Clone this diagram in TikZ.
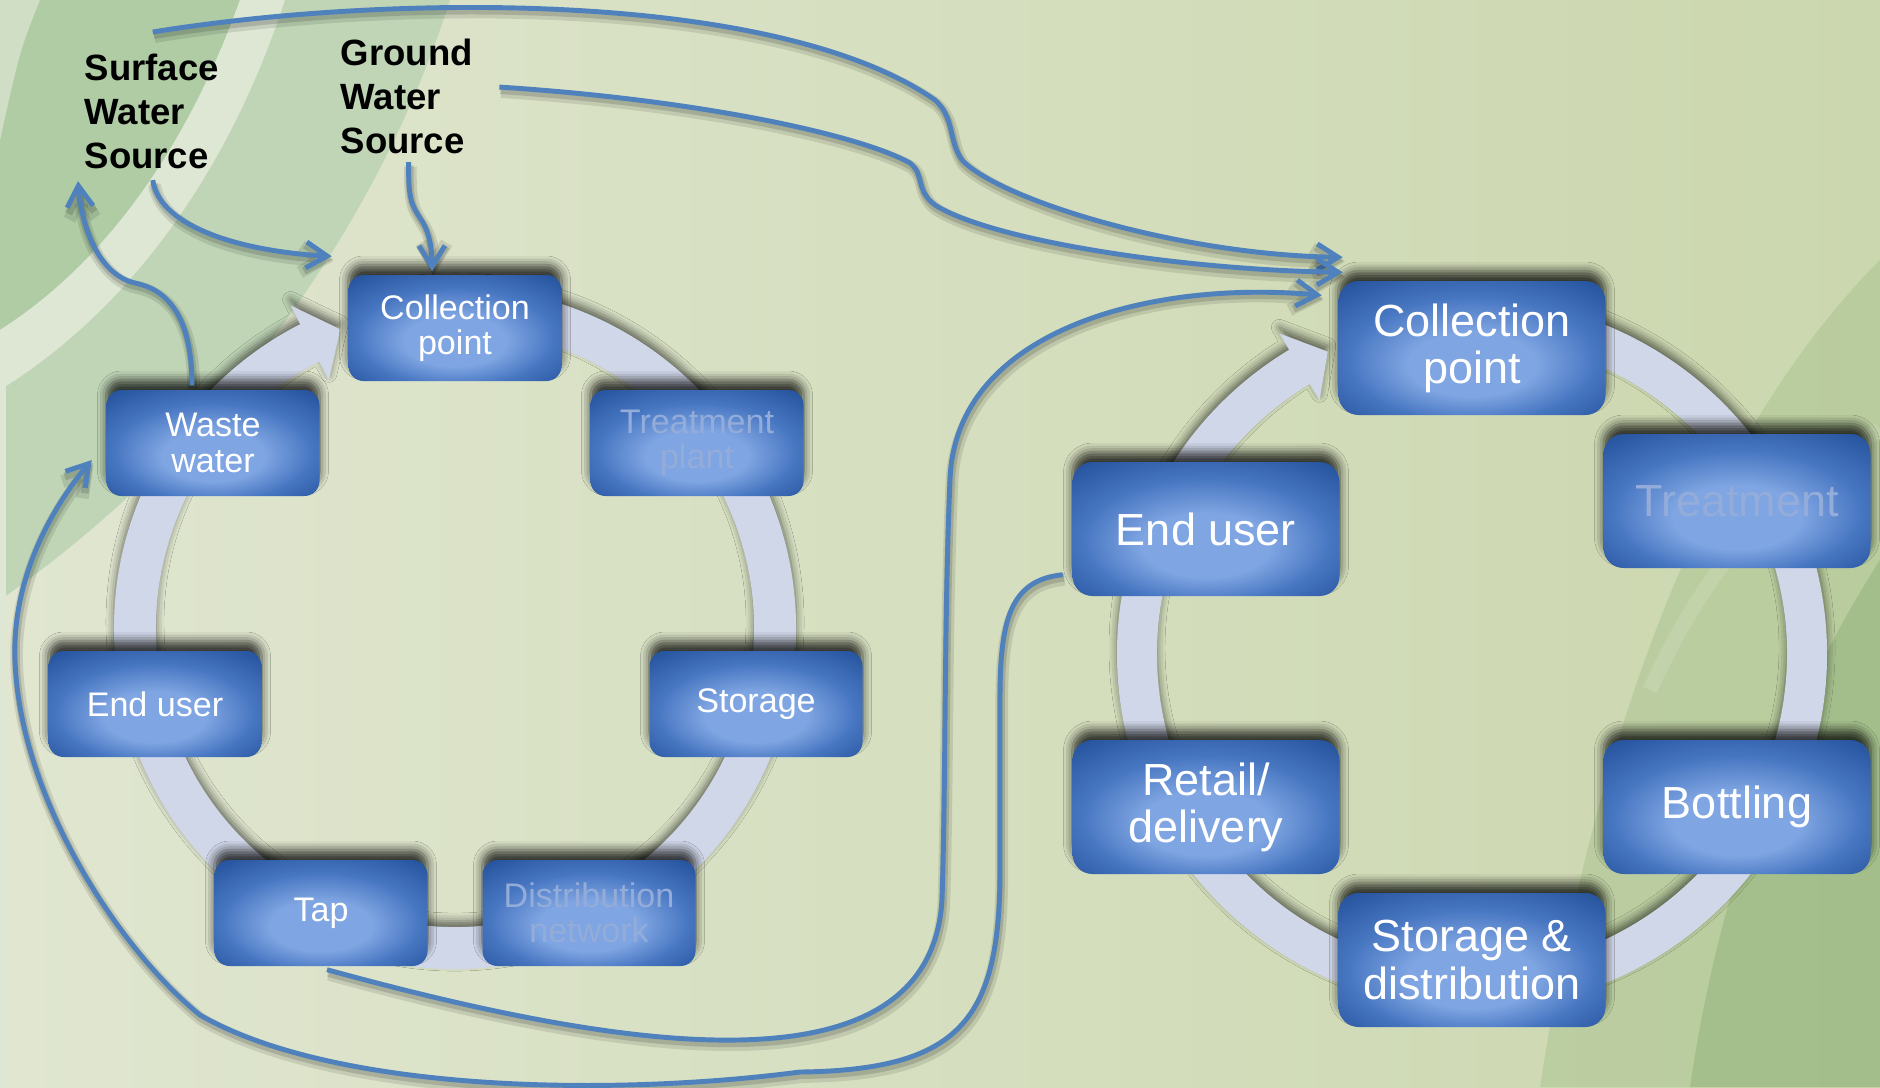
\documentclass[tikz,border=0pt]{standalone}
\usepackage{fontspec}
\setmainfont{Liberation Sans}
\usetikzlibrary{arrows.meta, calc, shadows.blur}

\definecolor{stagedark}{HTML}{2855A0}
\definecolor{stagemid}{HTML}{4877C2}
\definecolor{stagelight}{HTML}{7FA5E2}
\definecolor{ringgrey}{HTML}{D0D7E8}
\definecolor{flowblue}{HTML}{4F81BD}
\definecolor{fadetext}{HTML}{93ACD9}
\definecolor{bgleft}{HTML}{E0E6D0}
\definecolor{bgright}{HTML}{CBD7AE}
\definecolor{leafdark}{HTML}{AFCCA5}
\definecolor{leafmid}{HTML}{BFD5B6}
\definecolor{leafpale}{HTML}{DDE7D4}
\definecolor{leafright}{HTML}{A9C38F}
\definecolor{leafdeep}{HTML}{8FB279}

\pgfdeclareradialshading{stageshade}{\pgfpoint{0bp}{-8bp}}{%
    color(0bp)=(stagelight); color(12bp)=(stagelight);
    color(23bp)=(stagemid); color(35bp)=(stagedark); color(50bp)=(stagedark)}

\tikzset{
    stage/.style={shade, shading=stageshade, rounded corners=1.5mm,
        minimum width=21.3mm, minimum height=10.6mm, inner sep=0pt,
        align=center, text=white, font=\fontsize{9.7}{10}\selectfont,
        blur shadow={shadow xshift=0pt, shadow yshift=1mm,
            shadow blur radius=0.9mm, shadow opacity=75}},
    bigstage/.style={stage, rounded corners=2mm,
        minimum width=26.7mm, minimum height=13.4mm,
        font=\fontsize{12.8}{13.4}\selectfont},
    faded/.style={text=fadetext},
    source/.style={anchor=north west, inner sep=0pt, align=left,
        font=\fontsize{10.4}{12.5}\selectfont\bfseries},
    ring/.style={fill=ringgrey, blur shadow={shadow xshift=0pt,
        shadow yshift=0.6mm, shadow blur radius=0.8mm, shadow opacity=55}},
    flow/.style={draw=flowblue, line width=1.4pt,
        -{Straight Barb[length=2.1mm, width=2.6mm]},
        preaction={draw=black, draw opacity=0.10, line width=3.6pt,
            transform canvas={xshift=0.5pt, yshift=-1.3pt}},
        preaction={draw=black, draw opacity=0.14, line width=2.2pt,
            transform canvas={xshift=0.3pt, yshift=-0.9pt}}}
}

\begin{document}
\begin{tikzpicture}[x=0.1mm, y=-0.1mm]
    \useasboundingbox (0,0) rectangle (1880,1087);

    % backdrop and leaves
    \shade[left color=bgleft, right color=bgright] (0,0) rectangle (1880,1087);
    \fill[leafdark] (0,0) -- (240,0) .. controls (190,140) and (110,260) .. (0,330) -- cycle;
    \fill[leafpale] (240,0) -- (285,0) .. controls (230,170) and (130,310) .. (0,390) -- (0,330) .. controls (110,260) and (190,140) .. (240,0);
    \fill[leafmid] (285,0) -- (450,0) .. controls (370,250) and (200,460) .. (0,600) -- (0,390) .. controls (130,310) and (230,170) .. (285,0);
    \fill[leafpale, opacity=0.7] (0,0) -- (40,0) .. controls (20,50) .. (0,140) -- cycle;
    \fill[leafpale] (0,330) rectangle (6,1087);
    \fill[leafright, opacity=0.5] (1880,260) .. controls (1720,420) and (1600,700) .. (1540,1087) -- (1880,1087) -- cycle;
    \fill[leafdeep, opacity=0.5] (1880,560) .. controls (1790,700) and (1720,880) .. (1690,1087) -- (1880,1087) -- cycle;
    \draw[white, opacity=0.12, line width=1.5mm] (1880,430) .. controls (1760,500) and (1700,580) .. (1650,690);

    % cycle rings
    \coordinate (lc) at (455,628);
    \coordinate (rc) at (1472,654);
    \fill[ring] ([shift={(-100:341)}]lc) arc[start angle=-100, end angle=243, radius=341]
        -- ([shift={(243:362)}]lc) -- ([shift={(249:320)}]lc) -- ([shift={(243:278)}]lc)
        -- ([shift={(243:299)}]lc) arc[start angle=243, end angle=-100, radius=299] -- cycle;
    \fill[ring] ([shift={(-100:355)}]rc) arc[start angle=-100, end angle=239, radius=355]
        -- ([shift={(239:374)}]rc) -- ([shift={(244.5:335)}]rc) -- ([shift={(239:296)}]rc)
        -- ([shift={(239:315)}]rc) arc[start angle=239, end angle=-100, radius=315] -- cycle;

    \node[stage] (lcoll) at (455,328) {Collection\\point};
    \node[stage, faded] (ltreat) at (697,443) {Treatment\\plant};
    \node[stage] (lstore) at (756,704) {Storage};
    \node[stage, faded] (ldist) at (589,913) {Distribution\\network};
    \node[stage] (ltap) at (321,913) {Tap};
    \node[stage] (luser) at (155,704) {End user};
    \node[stage] (lwaste) at (213,443) {Waste\\water};

    \node[bigstage] (rcoll) at (1472,348) {Collection\\point};
    \node[bigstage, faded] (rtreat) at (1737,501) {Treatment};
    \node[bigstage] (rbottle) at (1737,807) {Bottling};
    \node[bigstage] (rstore) at (1472,960) {Storage \&\\distribution};
    \node[bigstage] (rretail) at (1206,807) {Retail/\\delivery};
    \node[bigstage] (ruser) at (1206,529) {End user};

    \node[source] (surf) at (84,53) {Surface\\Water\\Source};
    \node[source] (grnd) at (340,38) {Ground\\Water\\Source};

    % water flows
    \draw[flow] ([shift={(1,-21)}]surf.north) .. controls (400,-8) and (780,-8) .. (935,100)
        .. controls (955,118) and (948,140) .. (962,160)
        .. controls (1000,200) and (1180,255) .. ([shift={(5,-23)}]rcoll.north west);
    \draw[flow] ([shift={(26,-9)}]grnd.east) .. controls (700,100) and (860,135) .. (910,163)
        .. controls (925,175) and (915,190) .. (935,205)
        .. controls (990,240) and (1180,270) .. ([shift={(5,-8)}]rcoll.north west);
    \draw[flow] ([shift={(6,3)}]ltap.south) .. controls (620,1050) and (930,1100) .. (942,900)
        .. controls (946,780) and (944,620) .. (950,480)
        .. controls (955,330) and (1150,280) .. ([shift={(-16,15)}]rcoll.north west);
    \draw[flow] ([shift={(-9,-22)}]ruser.south west) .. controls (1010,580) and (1000,620) .. (1000,700)
        -- (1000,870) .. controls (1000,1020) and (960,1070) .. (800,1072)
        .. controls (600,1098) and (330,1090) .. (200,1015)
        .. controls (120,950) and (20,800) .. (15,660)
        .. controls (12,580) and (50,510) .. ([shift={(-14,17)}]lwaste.west);
    \draw[flow] ([shift={(-21,-4)}]lwaste.north) .. controls (192,320) and (170,290) .. (135,283)
        .. controls (100,275) and (82,230) .. ([shift={(-6,12)}]surf.south west);
    \draw[flow] ([shift={(1,11)}]surf.south) .. controls (160,230) and (250,252) .. ([shift={(-16,-18)}]lcoll.north west);
    \draw[flow] ([shift={(2,8)}]grnd.south) .. controls (408,200) and (412,205) .. (420,218)
        .. controls (430,232) and (432,250) .. ([shift={(-23,-3)}]lcoll.north);
\end{tikzpicture}
\end{document}
